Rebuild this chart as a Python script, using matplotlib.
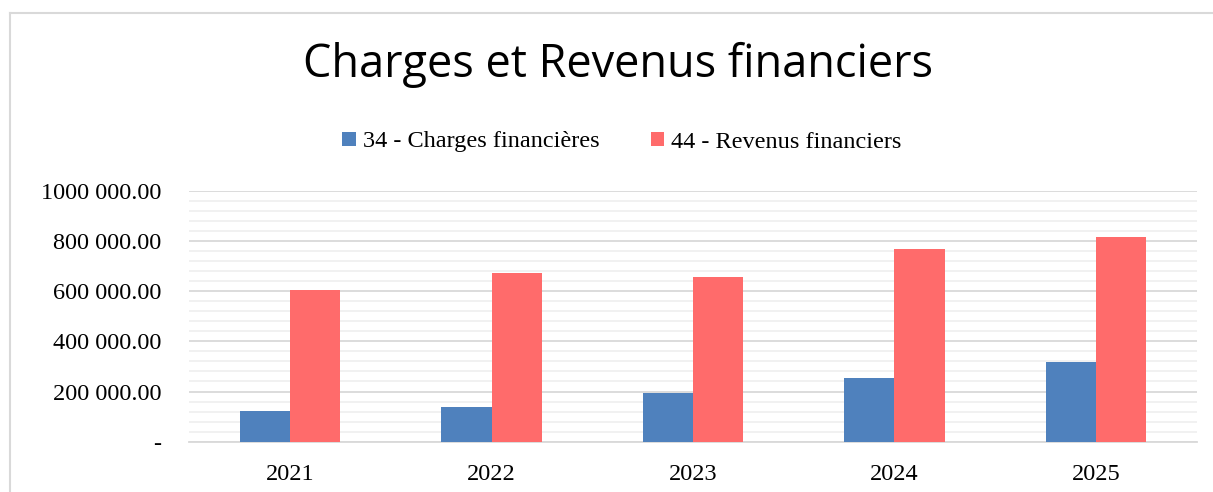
import matplotlib
matplotlib.use("Agg")
import matplotlib.pyplot as plt
from matplotlib.lines import Line2D
from matplotlib.ticker import MultipleLocator
import numpy as np

# data
years = ["2021", "2022", "2023", "2024", "2025"]
charges = [122000, 138000, 194000, 253000, 316000]
revenus = [603000, 673000, 658000, 766000, 814000]
series_names = ["34 - Charges financières", "44 - Revenus financiers"]
ytick_values = [0, 200000, 400000, 600000, 800000, 1000000]
ytick_labels = ["-", "200 000.00", "400 000.00", "600 000.00", "800 000.00", "1000 000.00"]

BLUE = "#4F81BD"
RED = "#FF6B6B"
SERIF = "Liberation Serif"
FS = 17.5

W, H = 1213, 492
fig = plt.figure(figsize=(W / 100, H / 100), dpi=100)
ax = fig.add_axes([189.3 / W, 1 - 441.7 / H, (1196.7 - 189.3) / W, (441.7 - 190.7) / H])

x = np.arange(len(years))
bw = 0.25
ax.bar(x - bw / 2, charges, bw, color=BLUE, label=series_names[0], zorder=3)
ax.bar(x + bw / 2, revenus, bw, color=RED, label=series_names[1], zorder=3)

ax.set_xlim(-0.5, len(years) - 0.5)
ax.set_ylim(0, 1000000)
ax.set_xticks(x)
ax.set_xticklabels(years, fontfamily=SERIF, fontsize=FS)
ax.set_yticks(ytick_values)
ax.set_yticklabels(ytick_labels, fontfamily=SERIF, fontsize=FS)
ax.yaxis.set_minor_locator(MultipleLocator(40000))
ax.tick_params(axis="x", length=0, pad=16)
ax.tick_params(axis="y", which="both", length=0, pad=20)
ax.grid(axis="y", which="major", color="#d9d9d9", linewidth=1.3, zorder=0)
ax.grid(axis="y", which="minor", color="#f0f0f0", linewidth=1.3, zorder=0)
for s in ["top", "right", "left"]:
    ax.spines[s].set_visible(False)
ax.spines["bottom"].set_color("#d9d9d9")
ax.spines["bottom"].set_linewidth(1.3)

fig.text(618 / W, 1 - 76.7 / H, "Charges et Revenus financiers", ha="center",
         va="baseline", fontfamily="Open Sans", fontsize=32.5)

fig.legend(loc="center", bbox_to_anchor=(622 / W, 1 - 142 / H), ncol=2, frameon=False,
           prop={"family": SERIF, "size": FS}, handlelength=0.55, handleheight=0.55,
           handletextpad=0.3, columnspacing=2.1)

# chart frame (only top and left edges are visible in the crop)
fig.add_artist(Line2D([10 / W, 1], [1 - 12.5 / H] * 2, color="#d9d9d9", linewidth=1.5))
fig.add_artist(Line2D([10 / W] * 2, [0, 1 - 12.5 / H], color="#d9d9d9", linewidth=1.5))

fig.savefig("out.png", dpi=100)
